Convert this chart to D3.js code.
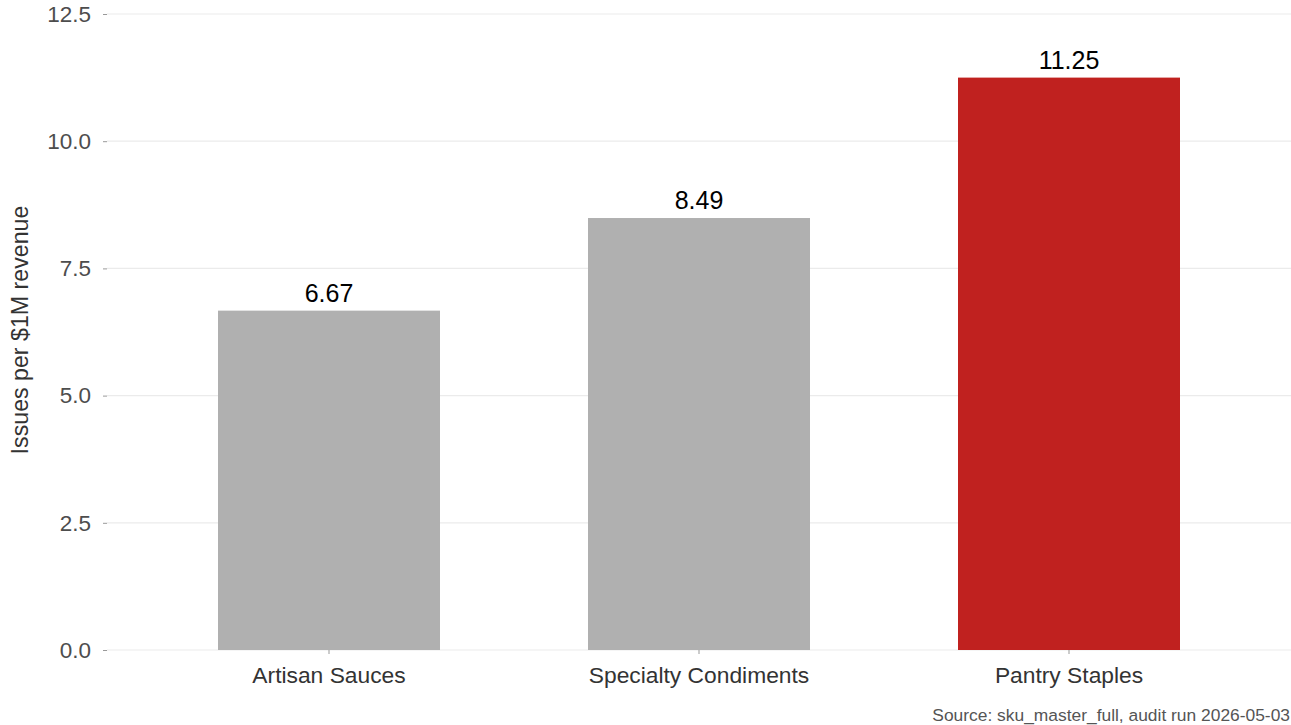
<!DOCTYPE html>
<html>
<head>
<meta charset="utf-8">
<script src="https://cdn.jsdelivr.net/npm/d3@7"></script>
<style>
  html, body { margin: 0; padding: 0; background: #ffffff; }
  svg { display: block; font-family: "Liberation Sans", Arial, sans-serif; }
</style>
</head>
<body>
<svg id="chart" width="1291" height="725"></svg>
<script>
// Issue rate by product category
const categories = ["Artisan Sauces", "Specialty Condiments", "Pantry Staples"];
const values = [6.67, 8.49, 11.25];
const barColors = ["#b0b0b0", "#b0b0b0", "#c0211f"];
const yTicks = [0, 2.5, 5, 7.5, 10, 12.5];
const yTitle = "Issues per $1M revenue";
const caption = "Source: sku_master_full, audit run 2026-05-03";

const W = 1291, H = 725;
const margin = { top: 14, right: 0, bottom: 75, left: 107 };
const svg = d3.select("#chart");

const x = d3.scaleBand()
  .domain(categories)
  .range([margin.left, W - margin.right])
  .paddingInner(0.4)
  .paddingOuter(0.3);

const y = d3.scaleLinear()
  .domain([0, 12.5])
  .range([H - margin.bottom, margin.top]);

// horizontal gridlines
svg.append("g")
  .selectAll("line")
  .data(yTicks)
  .join("line")
  .attr("x1", margin.left)
  .attr("x2", W - margin.right)
  .attr("y1", d => y(d))
  .attr("y2", d => y(d))
  .attr("stroke", "#ebebeb")
  .attr("stroke-width", 1.2);

// y axis
const yAxis = svg.append("g")
  .attr("transform", `translate(${margin.left},0)`)
  .call(d3.axisLeft(y).tickValues(yTicks).tickFormat(d3.format(".1f")).tickSize(4).tickPadding(12));
yAxis.select(".domain").remove();
yAxis.selectAll(".tick line").attr("stroke", "#999999");
yAxis.selectAll(".tick text")
  .attr("fill", "#4d4d4d")
  .style("font-size", "22.5px")
  .style("font-family", "'Liberation Sans', Arial, sans-serif");

// x axis
const xAxis = svg.append("g")
  .attr("transform", `translate(0,${y(0)})`)
  .call(d3.axisBottom(x).tickSize(4).tickPadding(13));
xAxis.select(".domain").remove();
xAxis.selectAll(".tick line").attr("stroke", "#999999");
xAxis.selectAll(".tick text")
  .attr("fill", "#333333")
  .attr("dy", "0.71em")
  .style("font-size", "22.8px")
  .style("font-family", "'Liberation Sans', Arial, sans-serif");

// bars
svg.append("g")
  .selectAll("rect")
  .data(values)
  .join("rect")
  .attr("x", (d, i) => x(categories[i]))
  .attr("width", x.bandwidth())
  .attr("y", d => y(d))
  .attr("height", d => y(0) - y(d))
  .attr("fill", (d, i) => barColors[i]);

// value labels
svg.append("g")
  .selectAll("text")
  .data(values)
  .join("text")
  .attr("x", (d, i) => x(categories[i]) + x.bandwidth() / 2)
  .attr("y", d => y(d) - 9)
  .attr("text-anchor", "middle")
  .attr("fill", "#000000")
  .style("font-size", "25px")
  .text(d => d.toFixed(2));

// y axis title
svg.append("text")
  .attr("transform", `translate(28,${(y(0) + y(12.5)) / 2 - 2}) rotate(-90)`)
  .attr("text-anchor", "middle")
  .attr("fill", "#333333")
  .style("font-size", "23.2px")
  .text(yTitle);

// caption
svg.append("text")
  .attr("x", W - 1)
  .attr("y", H - 4)
  .attr("text-anchor", "end")
  .attr("fill", "#555555")
  .style("font-size", "17.4px")
  .text(caption);
</script>
</body>
</html>
